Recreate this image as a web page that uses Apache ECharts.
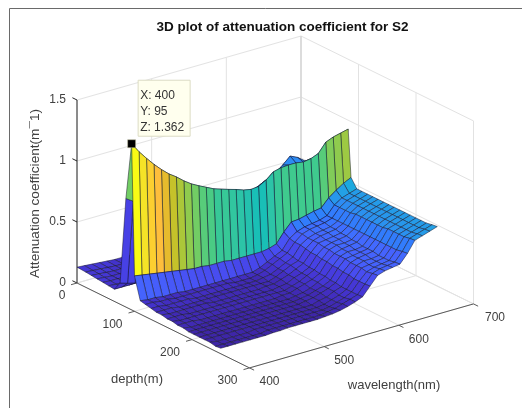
<!DOCTYPE html>
<html><head><meta charset="utf-8">
<style>html,body{margin:0;padding:0;background:#fff}#c{width:522px;height:408px}</style>
<script src="https://cdn.jsdelivr.net/npm/echarts@6/dist/echarts.min.js"></script>
</head><body><div id="c"></div>
<script>
const chartTitle = '3D plot of attenuation coefficient for S2';
const wavelengths = [400,410,420,430,440,450,460,470,480,490,500,510,520,530,540,550,560,570,580,590,600,610,620,630,640,650,660,670,680,690];
const depths = [0,15,25,35,45,55,65,75,85,95,100,110,119,129,138,147,157,166,175,185,194,203,213,222,231,241,250];
const zTicks = [0,0.5,1,1.5];
const zTickLabels = ['0','0.5','1','1.5'];
const depthTicks = [0,100,200,300];
const wlTicks = [400,500,600,700];

const zD0   = [.13,.125,.12,.115,.11,.105,.105,.10,.10,.10,.10,.10,.10,.10,.10,.10,.10,.10,.10,.10,.11,.11,.12,.12,.12,.12,.13,.13,.13,.13];
const zD15  = [.125,.12,.115,.11,.105,.105,.10,.10,.10,.10,.10,.10,.10,.10,.10,.10,.10,.10,.10,.10,.11,.11,.12,.12,.12,.12,.13,.13,.13,.13];
const zD25  = [.12,.115,.11,.105,.105,.10,.10,.10,.10,.10,.10,.10,.10,.10,.10,.10,.10,.10,.10,.11,.11,.12,.12,.12,.12,.13,.13,.13,.13,.14];
const zD35  = [.115,.11,.105,.105,.10,.10,.10,.10,.10,.10,.10,.10,.10,.10,.10,.10,.10,.10,.10,.11,.11,.12,.12,.12,.12,.13,.13,.13,.14,.14];
const zD45  = [.11,.105,.105,.10,.10,.10,.10,.10,.10,.10,.10,.10,.10,.10,.10,.10,.10,.10,.11,.11,.12,.12,.12,.12,.13,.13,.13,.14,.14,.14];
const zD55  = [.105,.10,.10,.10,.10,.10,.10,.10,.10,.10,.10,.10,.10,.10,.10,.10,.10,.11,.11,.12,.12,.12,.13,.13,.13,.13,.14,.14,.14,.15];
const zD65  = [.10,.10,.10,.10,.10,.10,.10,.10,.10,.10,.10,.10,.10,.10,.10,.10,.11,.11,.12,.12,.13,.13,.13,.13,.14,.14,.14,.15,.15,.15];
const zD75  = [.174,.155,.14,.13,.12,.12,.12,.12,.12,.12,.12,.12,.12,.12,.13,.13,.14,.14,.15,.16,.17,.17,.18,.18,.18,.18,.19,.19,.20,.20];
const zD85  = [.89,.85,.80,.76,.72,.70,.68,.66,.65,.64,.63,.62,.62,.62,.62,.63,.64,.66,.69,.72,.75,.797,.853,.824,.777,.744,.72,.72,.72,.72];
const zD95  = [1.362,1.278,1.207,1.14,1.08,1.027,.985,.935,.893,.86,.83,.80,.78,.76,.742,.72,.708,.715,.75,.80,.815,.82,.82,.81,.82,.845,.92,.945,.96,.975];
const zD100 = [.29,.28,.27,.26,.25,.24,.23,.22,.21,.21,.20,.20,.20,.19,.19,.19,.19,.19,.20,.22,.30,.365,.37,.385,.40,.41,.475,.52,.56,.59];
const zD110 = [.11,.10,.10,.09,.09,.09,.08,.08,.08,.08,.08,.08,.08,.08,.08,.08,.10,.13,.16,.19,.27,.31,.33,.34,.35,.37,.44,.48,.50,.52];
const zD119 = [.10,.10,.09,.09,.08,.08,.08,.08,.08,.08,.08,.08,.07,.07,.07,.08,.10,.13,.16,.19,.26,.31,.33,.34,.35,.37,.44,.48,.50,.52];
const zD129 = [.09,.09,.08,.08,.08,.08,.07,.07,.07,.07,.07,.07,.07,.07,.07,.08,.09,.12,.15,.18,.26,.30,.32,.33,.34,.37,.44,.48,.50,.52];
const zD138 = [.08,.08,.08,.07,.07,.07,.07,.07,.07,.07,.07,.07,.07,.07,.07,.07,.09,.12,.15,.17,.25,.30,.32,.33,.34,.37,.44,.48,.50,.52];
const zD147 = [.08,.07,.07,.07,.07,.07,.07,.06,.06,.06,.06,.06,.06,.06,.07,.07,.09,.11,.14,.17,.24,.30,.31,.32,.33,.37,.45,.48,.50,.52];
const zD157 = [.07,.07,.07,.06,.06,.06,.06,.06,.06,.06,.06,.06,.06,.06,.06,.07,.08,.11,.13,.16,.24,.29,.31,.32,.33,.37,.45,.48,.50,.52];
const zD166 = [.07,.06,.06,.06,.06,.06,.06,.06,.06,.06,.06,.06,.06,.06,.06,.06,.08,.10,.13,.16,.23,.29,.31,.31,.32,.37,.45,.48,.50,.52];
const zD175 = [.06,.06,.06,.05,.05,.05,.05,.05,.05,.05,.05,.05,.05,.05,.06,.06,.08,.10,.12,.15,.23,.28,.30,.31,.32,.37,.45,.48,.50,.52];
const zD185 = [.06,.05,.05,.05,.05,.05,.05,.05,.05,.05,.05,.05,.05,.05,.05,.06,.07,.09,.12,.15,.22,.28,.30,.30,.31,.37,.45,.48,.50,.52];
const zD194 = [.05,.05,.05,.05,.05,.05,.05,.05,.05,.05,.05,.05,.05,.05,.05,.06,.07,.09,.11,.14,.22,.28,.29,.30,.31,.37,.45,.48,.50,.52];
const zD203 = [.05,.05,.05,.05,.05,.05,.05,.05,.05,.05,.05,.05,.05,.05,.05,.06,.07,.09,.11,.14,.21,.27,.29,.30,.31,.37,.46,.48,.50,.52];
const zD213 = [.05,.05,.05,.05,.05,.05,.05,.05,.05,.05,.05,.05,.05,.05,.05,.05,.07,.08,.11,.13,.21,.27,.29,.29,.30,.37,.46,.48,.50,.52];
const zD222 = [.05,.05,.05,.05,.05,.05,.05,.05,.05,.05,.05,.05,.05,.05,.05,.05,.06,.08,.10,.13,.20,.27,.28,.29,.30,.37,.46,.48,.50,.52];
const zD231 = [.05,.04,.04,.04,.04,.04,.05,.05,.05,.05,.05,.05,.05,.05,.05,.05,.06,.08,.10,.13,.20,.26,.28,.29,.30,.37,.46,.48,.50,.52];
const zD241 = [.04,.04,.04,.04,.04,.04,.04,.05,.05,.05,.05,.05,.05,.05,.05,.06,.07,.09,.11,.13,.20,.27,.29,.30,.31,.38,.47,.49,.51,.53];
const zD250 = [.045,.045,.045,.045,.045,.045,.045,.05,.05,.055,.055,.055,.055,.055,.06,.065,.075,.09,.11,.135,.205,.275,.295,.305,.315,.385,.475,.495,.515,.535];
const surfaceZ = [zD0,zD15,zD25,zD35,zD45,zD55,zD65,zD75,zD85,zD95,zD100,zD110,zD119,zD129,zD138,zD147,zD157,zD166,zD175,zD185,zD194,zD203,zD213,zD222,zD231,zD241,zD250];
/* colour data of the depth-85 row (surf's separate C matrix) */
const colourD85 = [.89,.85,.80,.76,.72,.70,.68,.66,.65,.64,.63,.62,.62,.62,.62,.63,.64,.44,.44,.44,.44,.44,.44,.44,.44,.44,.72,.72,.72,.72];

const parula = [[.2422,.1504,.6603],[.2504,.165,.7076],[.2578,.1818,.7511],[.2647,.1978,.7952],[.2706,.2147,.8364],[.2751,.2342,.871],[.2783,.2559,.8991],[.2803,.2782,.9221],[.2813,.3006,.9414],[.281,.3228,.9579],[.2795,.3447,.9717],[.276,.3667,.9829],[.2699,.3892,.9906],[.2602,.4123,.9952],[.244,.4358,.9988],[.2206,.4603,.9973],[.1963,.4847,.9892],[.1834,.5074,.9798],[.1786,.5289,.9682],[.1764,.5499,.952],[.1687,.5703,.9359],[.154,.5902,.9218],[.146,.6091,.9079],[.138,.6276,.8973],[.1248,.6459,.8883],[.1113,.6635,.8763],[.0952,.6798,.8598],[.0689,.6948,.8394],[.0297,.7082,.8163],[.0036,.7203,.7917],[.0067,.7312,.766],[.0433,.7411,.7394],[.0964,.75,.712],[.1408,.7584,.6842],[.1717,.767,.6554],[.1938,.7758,.6251],[.2161,.7843,.5923],[.247,.7918,.5567],[.2906,.7973,.5188],[.3406,.8008,.4789],[.3909,.8029,.4354],[.4456,.8024,.3909],[.5044,.7993,.348],[.5616,.7942,.3045],[.6174,.7876,.2612],[.672,.7793,.2227],[.7242,.7698,.191],[.7738,.7598,.1646],[.8203,.7498,.1535],[.8634,.7406,.1596],[.9035,.733,.1774],[.9393,.7288,.21],[.9728,.7298,.2394],[.9956,.7434,.2371],[.997,.7659,.2199],[.9952,.7893,.2028],[.9892,.8136,.1885],[.9786,.8386,.1766],[.9676,.8639,.1643],[.961,.889,.1537],[.9597,.9135,.1423],[.9628,.9373,.1265],[.9691,.9606,.1064],[.9769,.9839,.0805]];
const zMin = 0.03, zMax = 1.362;
function faceColour(v){
  const k = Math.max(0,Math.min(63,Math.floor((v-zMin)/(zMax-zMin)*64)));
  const c = parula[k];
  return 'rgb('+c.map(x=>Math.round(x*255)).join(',')+')';
}
/* MATLAB view: orthographic projection of (wavelength, depth, z) */
function project(w,d,z){
  return [77+0.575*d+0.7467*(w-400), 283+0.283*d-0.2133*(w-400)-122*z];
}
const colZ = (i,j)=> i===8 ? colourD85[j] : surfaceZ[i][j];

/* faces in back-to-front order */
const cells=[];
for(let i=0;i<depths.length-1;i++) for(let j=wavelengths.length-2;j>=0;j--) cells.push([i,j]);

/* axes and grid from ticks */
const gridC='#e2e2e2', dark='#262626', axisC='#5a5a5a';
const gridSegs=[], axisSegs=[];
function seg(list,a,b,c,w){list.push({a,b,c,w});}
const W0=400,W1=700,D0=0,D1=300,Zt=1.5;
zTicks.forEach(z=>{ seg(gridSegs,[W0,D0,z],[W1,D0,z],gridC,1); seg(gridSegs,[W1,D0,z],[W1,D1,z],gridC,1); });
wlTicks.forEach(w=>{ seg(gridSegs,[w,D0,0],[w,D1,0],gridC,1); seg(gridSegs,[w,D0,0],[w,D0,Zt],gridC,1); });
depthTicks.forEach(d=>{ seg(gridSegs,[W0,d,0],[W1,d,0],gridC,1); seg(gridSegs,[W1,d,0],[W1,d,Zt],gridC,1); });
seg(gridSegs,[W1,D0,0],[W1,D0,Zt],'#cfcfcf',1);
seg(axisSegs,[W0,D0,0],[W0,D0,Zt],dark,1);
seg(axisSegs,[W0,D0,0],[W0,D1,0],axisC,1);
seg(axisSegs,[W0,D1,0],[W1,D1,0],axisC,1);
zTicks.forEach(z=>seg(axisSegs,[W0,D0,z],[W0,D0-8,z],dark,1));
depthTicks.forEach(d=>seg(axisSegs,[W0,d,0],[W0-8,d,0],axisC,1));
wlTicks.forEach(w=>seg(axisSegs,[w,D1,0],[w,D1+8,0],axisC,1));

const labelFont='12px "Liberation Sans"';
const labels=[];
zTicks.forEach((z,k)=>{const p=project(W0,D0,z);labels.push({x:p[0]-11,y:p[1]-0.5,text:zTickLabels[k],align:'right',font:labelFont});});
depthTicks.forEach(d=>{const p=project(W0,d,0);labels.push({x:d===0?p[0]-15:p[0]-22,y:p[1]+13,text:String(d),align:'center',font:labelFont});});
wlTicks.forEach(w=>{const p=project(w,D1,0);labels.push({x:p[0]+(w===700?21.5:20),y:p[1]+14,text:String(w),align:'center',font:labelFont});});
labels.push({x:137,y:379,text:'depth(m)',align:'center',font:'13px "Liberation Sans"'});
labels.push({x:394,y:385,text:'wavelength(nm)',align:'center',font:'13px "Liberation Sans"'});

const tip={w:400,d:95,z:1.362};
const tipLines=['X: '+tip.w,'Y: '+tip.d,'Z: '+tip.z];

function custom(data,renderItem,z){
  return {type:'custom',coordinateSystem:'cartesian2d',data,renderItem,silent:true,animation:false,clip:false,z,encode:{x:0,y:1}};
}
const chart=echarts.init(document.getElementById('c'),null,{renderer:'canvas',width:522,height:408});
const segRender=list=>(p,api)=>{
  const s=list[p.dataIndex];
  const a=api.coord(project(...s.a)), b=api.coord(project(...s.b));
  return {type:'line',shape:{x1:a[0],y1:a[1],x2:b[0],y2:b[1]},style:{stroke:s.c,lineWidth:s.w}};
};
chart.setOption({
  animation:false,
  backgroundColor:'#fff',
  title:{text:chartTitle,left:277.5,top:15,textAlign:'center',textStyle:{fontFamily:'Liberation Sans',fontSize:13.5,fontWeight:'bold',color:'#111'}},
  grid:{left:0,right:0,top:0,bottom:0,containLabel:false},
  xAxis:{type:'value',min:0,max:522,show:false},
  yAxis:{type:'value',min:0,max:408,inverse:true,show:false},
  graphic:[
    {type:'polyline',shape:{points:[[9.5,408],[9.5,8.5],[522,8.5]]},style:{stroke:'#6a6a6a',lineWidth:1,fill:null},silent:true},
    {type:'text',x:35.5,y:193.5,rotation:Math.PI/2,style:{text:'Attenuation coefficient(m\u00AF1)',font:'13.6px "Liberation Sans"',fill:'#404040',align:'center',verticalAlign:'middle'},silent:true}
  ],
  series:[
    custom(gridSegs.map((s,i)=>[i,0]),segRender(gridSegs),1),
    custom(axisSegs.map((s,i)=>[i,0]),segRender(axisSegs),2),
    custom(cells,(p,api)=>{
      const i=api.value(0), j=api.value(1);
      const pts=[[i,j],[i,j+1],[i+1,j+1],[i+1,j]].map(q=>api.coord(project(wavelengths[q[1]],depths[q[0]],surfaceZ[q[0]][q[1]])));
      return {type:'polygon',shape:{points:pts},style:{fill:faceColour(colZ(i,j)),stroke:'#16162a',lineWidth:0.5,lineJoin:'round'}};
    },3),
    custom(labels.map((s,i)=>[i,0]),(p,api)=>{
      const l=labels[p.dataIndex];
      const c=api.coord([l.x,l.y]);
      return {type:'text',x:c[0],y:c[1],style:{text:l.text,font:l.font,fill:'#404040',align:l.align,verticalAlign:'middle'}};
    },4),
    custom([[tip.w,tip.d,tip.z]],(p,api)=>{
      const c=api.coord(project(api.value(0),api.value(1),api.value(2)));
      return {type:'rect',shape:{x:c[0]-4,y:c[1]-4,width:8,height:8},style:{fill:'#000',stroke:'#c8c8a8',lineWidth:0.5}};
    },5),
    custom([[0,0]],(p,api)=>{
      const o=api.coord(project(tip.w,tip.d,tip.z));
      const x=o[0]+6,y=o[1]-64;
      return {type:'group',children:[
        {type:'rect',shape:{x:x+.5,y:y+.5,width:52,height:56},style:{fill:'#ffffee',stroke:'#dcdcc4',lineWidth:1}}
      ].concat(tipLines.map((t,k)=>({type:'text',x:x+2.5,y:y+15.5+k*16,style:{text:t,font:'12px "Liberation Sans"',fill:'#333',align:'left',verticalAlign:'middle'}})))};
    },6)
  ]
});
</script></body></html>
